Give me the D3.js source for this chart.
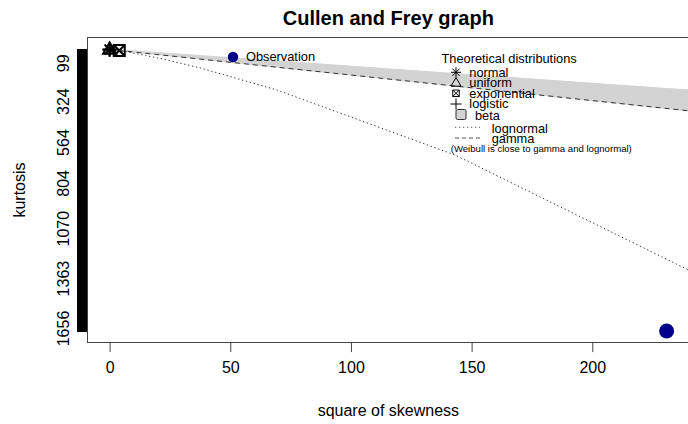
<!DOCTYPE html>
<html lang="en">
<head>
<meta charset="utf-8">
<title>Cullen and Frey graph</title>
<script src="https://d3js.org/d3.v7.min.js"></script>
<style>
  body { margin: 0; background: #fff; }
  text { font-family: "Liberation Sans", Arial, sans-serif; }
</style>
</head>
<body>
<script>

// observed sample
var obsSqSkew = [230.8];
var obsKurt = [1655.6];
var sqSkewMax = 231;
var kurtMax = 1656;

// axis labels
var xTicks = [0, 50, 100, 150, 200];
var yTickLabels = [99, 324, 564, 804, 1070, 1363, 1656];

// theoretical distributions: square of skewness / kurtosis
var distNames = ["normal", "uniform", "exponential", "logistic"];
var distSqSkew = [0, 0, 4, 0];
var distKurt = [3, 1.8, 9, 4.2];

var gammaLine = [[0, 3], [260, 393]];
var betaLower = [[0, 1], [260, 261]];
var lognormalLine = [[0, 3], [1.43, 5.65], [3.01, 8.79], [5.28, 13.65], [7.22, 18.1],
  [10.18, 25.35], [14.94, 38.02], [23.09, 62.19], [38.25, 113.94], [69.53, 241.9],
  [143.1, 622.4], [347.4, 2048.4]];

var legendLabels = ["normal", "uniform", "exponential", "logistic", "beta", "lognormal", "gamma"];

//Width and height
var w = 688;
var h = 424;
var plotL = 87.3, plotR = 689.4, plotT = 37.7, plotB = 342.3;

var svg = d3.select("body")
  .append("svg")
  .attr("width", w)
  .attr("height", h);

var x = d3.scaleLinear()
  .domain([-0.04 * sqSkewMax, 1.04 * sqSkewMax])
  .range([plotL, plotR]);

// kurtosis grows downwards
var y = d3.scaleLinear()
  .domain([-0.04 * kurtMax, 1.04 * kurtMax])
  .range([plotT, plotB]);

svg.append("clipPath").attr("id", "plotclip")
  .append("rect")
  .attr("x", plotL).attr("y", plotT)
  .attr("width", plotR - plotL).attr("height", plotB - plotT);

var plot = svg.append("g").attr("clip-path", "url(#plotclip)");

// observation
plot.selectAll("circle.obs")
  .data(obsSqSkew)
  .enter()
  .append("circle")
  .attr("class", "obs")
  .attr("cx", function(d) { return x(d); })
  .attr("cy", function(d, i) { return y(obsKurt[i]); })
  .attr("r", 7.5)
  .attr("fill", "#00008b");

var line = d3.line()
  .x(function(d) { return x(d[0]); })
  .y(function(d) { return y(d[1]); });

// beta region
var betaPoly = betaLower.concat(gammaLine.slice().reverse());
plot.append("path")
  .attr("d", line(betaPoly) + "Z")
  .attr("fill", "#d3d3d3")
  .attr("stroke", "#d3d3d3");

plot.append("path")
  .attr("d", line(gammaLine))
  .attr("fill", "none")
  .attr("stroke", "#333")
  .attr("stroke-width", 1)
  .attr("stroke-dasharray", "5,4");

plot.append("path")
  .attr("d", line(lognormalLine))
  .attr("fill", "none")
  .attr("stroke", "#333")
  .attr("stroke-width", 1)
  .attr("stroke-dasharray", "1.3,2.7");

//R-like plotting symbols
function drawSymbol(g, type, cx, cy, s, lw) {
  var r = s / 2;
  var p = d3.path();
  if (type === "normal") {
    p.moveTo(cx - r, cy); p.lineTo(cx + r, cy);
    p.moveTo(cx, cy - r); p.lineTo(cx, cy + r);
    var d = r * 0.72;
    p.moveTo(cx - d, cy - d); p.lineTo(cx + d, cy + d);
    p.moveTo(cx - d, cy + d); p.lineTo(cx + d, cy - d);
  } else if (type === "uniform") {
    p.moveTo(cx, cy - r * 1.05);
    p.lineTo(cx + r, cy + r * 0.7);
    p.lineTo(cx - r, cy + r * 0.7);
    p.closePath();
  } else if (type === "exponential") {
    p.rect(cx - r, cy - r, s, s);
    p.moveTo(cx - r, cy - r); p.lineTo(cx + r, cy + r);
    p.moveTo(cx - r, cy + r); p.lineTo(cx + r, cy - r);
  } else if (type === "logistic") {
    p.moveTo(cx - r, cy); p.lineTo(cx + r, cy);
    p.moveTo(cx, cy - r); p.lineTo(cx, cy + r);
  }
  g.append("path")
    .attr("d", p.toString())
    .attr("fill", "none")
    .attr("stroke", "#000")
    .attr("stroke-width", lw);
}

var sizes = {normal: 14, uniform: 13, exponential: 11, logistic: 14};
distNames.forEach(function(n, i) {
  drawSymbol(svg, n, x(distSqSkew[i]), y(distKurt[i]), sizes[n], 2);
});

// dense y ticks (one per unit of kurtosis)
var yTickAxis = d3.axisLeft(y)
  .tickValues(d3.range(0, kurtMax + 1))
  .tickSize(10.5)
  .tickFormat("");
var gyt = svg.append("g")
  .attr("transform", "translate(87.5,0)")
  .call(yTickAxis);
gyt.select(".domain").remove();
gyt.selectAll("line").attr("stroke", "#000");

var yLabelAxis = d3.axisLeft(y)
  .tickValues(yTickLabels)
  .tickSize(0)
  .tickFormat(d3.format("d"));
var gyl = svg.append("g")
  .attr("transform", "translate(87.5,0)")
  .call(yLabelAxis);
gyl.select(".domain").remove();
gyl.selectAll("text")
  .attr("x", 0)
  .attr("dy", 0)
  .attr("transform", "translate(-19,-3) rotate(-90)")
  .attr("text-anchor", "middle")
  .attr("font-size", "16px")
  .attr("font-family", "Liberation Sans, Arial, sans-serif")
  .attr("fill", "#000");

var xAxis = d3.axisBottom(x)
  .tickValues(xTicks)
  .tickSize(9.6)
  .tickPadding(9.5);
var gx = svg.append("g")
  .attr("transform", "translate(0,342.5)")
  .call(xAxis);
gx.select(".domain").remove();
gx.selectAll("line").attr("stroke", "#444");
gx.selectAll("text")
  .attr("font-size", "16px")
  .attr("font-family", "Liberation Sans, Arial, sans-serif")
  .attr("fill", "#000");

// frame
svg.append("rect")
  .attr("x", 87.5).attr("y", 37.5)
  .attr("width", 602).attr("height", 305)
  .attr("fill", "none")
  .attr("stroke", "#444")
  .attr("stroke-width", 1);

// titles
svg.append("text")
  .attr("x", (plotL + plotR) / 2).attr("y", 25)
  .attr("text-anchor", "middle")
  .attr("font-size", "20px")
  .attr("font-weight", "bold")
  .text("Cullen and Frey graph");

svg.append("text")
  .attr("x", (plotL + plotR) / 2).attr("y", 416)
  .attr("text-anchor", "middle")
  .attr("font-size", "16px")
  .text("square of skewness");

svg.append("text")
  .attr("transform", "translate(24.5,190) rotate(-90)")
  .attr("text-anchor", "middle")
  .attr("font-size", "16px")
  .text("kurtosis");

// observation legend
svg.append("circle")
  .attr("cx", 233).attr("cy", 57).attr("r", 5.2)
  .attr("fill", "#00008b");
svg.append("text")
  .attr("x", 246).attr("y", 57).attr("dy", "0.35em")
  .attr("font-size", "12.8px")
  .text("Observation");

// theoretical distributions legend
var leg = svg.append("g");
leg.append("text")
  .attr("x", 441.5).attr("y", 58.3).attr("dy", "0.35em")
  .attr("font-size", "12.8px")
  .text("Theoretical distributions");

var rowY = [72.3, 82.7, 93.3, 104, 116, 128.3, 139];
var textX = [469.3, 469.3, 469.3, 469.3, 475, 491.7, 491.7];
var legSizes = {normal: 10, uniform: 10, exponential: 6.5, logistic: 11};

legendLabels.forEach(function(lab, i) {
  if (i < 4) {
    drawSymbol(leg, lab, 456, rowY[i], legSizes[lab], 1);
  } else if (lab === "beta") {
    leg.append("rect")
      .attr("x", 456).attr("y", rowY[i] - 6.5)
      .attr("width", 10).attr("height", 10)
      .attr("rx", 1.5)
      .attr("fill", "#d3d3d3")
      .attr("stroke", "#333");
  } else {
    leg.append("line")
      .attr("x1", 455).attr("x2", 480)
      .attr("y1", rowY[i] - 1).attr("y2", rowY[i] - 1)
      .attr("stroke", "#555")
      .attr("stroke-dasharray", lab === "lognormal" ? "1.3,2.7" : "4,3");
  }
  leg.append("text")
    .attr("x", textX[i]).attr("y", rowY[i]).attr("dy", "0.35em")
    .attr("font-size", "12.8px")
    .text(lab);
});

leg.append("text")
  .attr("x", 450.7).attr("y", 148.3).attr("dy", "0.35em")
  .attr("font-size", "9.6px")
  .text("(Weibull is close to gamma and lognormal)");

</script>
</body>
</html>
